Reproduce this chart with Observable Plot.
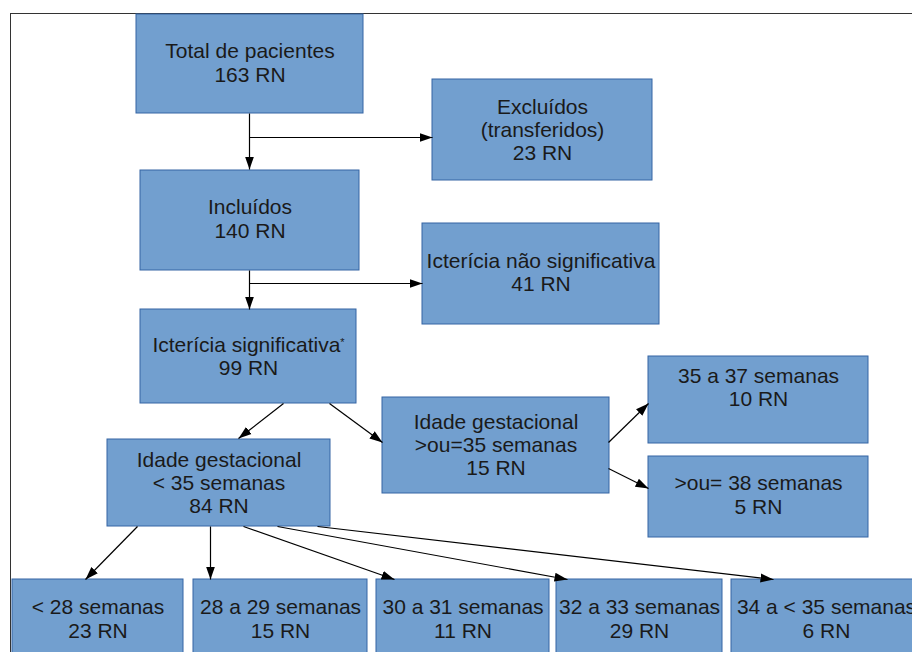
<!DOCTYPE html>
<html>
<head>
<meta charset="utf-8">
<script src="https://cdn.jsdelivr.net/npm/d3@7"></script>
<script src="https://cdn.jsdelivr.net/npm/@observablehq/plot@0.6"></script>
<style>
  html, body { margin: 0; padding: 0; background: #fff; }
  #chart svg { display: block; }
</style>
</head>
<body>
<div id="chart"></div>
<script>
// ---- Data: node labels and patient counts (RN = recém-nascidos) ----
const nodeIds = ["total", "excl", "incl", "naoSig", "sig", "ig35mais", "ig35menos", "g3537", "g38", "b28", "b2829", "b3031", "b3233", "b3435"];
const nodeLabels = [
  "Total de pacientes",
  "Excluídos\n(transferidos)",
  "Incluídos",
  "Icterícia não significativa",
  "Icterícia significativa*",
  "Idade gestacional\n>ou=35 semanas",
  "Idade gestacional\n< 35 semanas",
  "35 a 37 semanas",
  ">ou= 38 semanas",
  "< 28 semanas",
  "28 a 29 semanas",
  "30 a 31 semanas",
  "32 a 33 semanas",
  "34 a < 35 semanas"
];
const nodeCounts = [163, 23, 140, 41, 99, 15, 84, 10, 5, 23, 15, 11, 29, 6];

// ---- Edges (from -> to) ----
const edgeFrom = ["total", "total", "incl", "incl", "sig", "sig", "ig35mais", "ig35mais", "ig35menos", "ig35menos", "ig35menos", "ig35menos", "ig35menos"];
const edgeTo   = ["incl", "excl", "sig", "naoSig", "ig35menos", "ig35mais", "g3537", "g38", "b28", "b2829", "b3031", "b3233", "b3435"];

// ---- Layout of the diagram (diagram units) ----
const boxLayout = {
  total:     {x1: 136, x2: 363, y1: 14,  y2: 113, ty: 62},
  excl:      {x1: 432, x2: 652, y1: 79,  y2: 180, ty: 129},
  incl:      {x1: 140, x2: 359, y1: 170, y2: 270, ty: 218},
  naoSig:    {x1: 422, x2: 659, y1: 223, y2: 324, ty: 271.5},
  sig:       {x1: 140, x2: 356, y1: 309, y2: 403, ty: 355.5},
  ig35mais:  {x1: 382, x2: 609, y1: 397, y2: 493, ty: 444},
  ig35menos: {x1: 107, x2: 330, y1: 439, y2: 526, ty: 482},
  g3537:     {x1: 648, x2: 868, y1: 356, y2: 443, ty: 386.5},
  g38:       {x1: 648, x2: 868, y1: 456, y2: 537, ty: 494},
  b28:       {x1: 12,  x2: 183, y1: 579, y2: 662, ty: 618},
  b2829:     {x1: 193, x2: 367, y1: 579, y2: 662, ty: 618},
  b3031:     {x1: 376, x2: 549, y1: 579, y2: 662, ty: 618},
  b3233:     {x1: 556, x2: 722, y1: 579, y2: 662, ty: 618},
  b3435:     {x1: 731, x2: 921, y1: 579, y2: 662, ty: 618}
};
const edgeLayout = [
  {x1: 249, y1: 113, x2: 249, y2: 169},
  {x1: 249, y1: 137, x2: 432, y2: 137},
  {x1: 249, y1: 270, x2: 249, y2: 309},
  {x1: 249, y1: 283, x2: 422, y2: 283},
  {x1: 283, y1: 403, x2: 238, y2: 438},
  {x1: 329, y1: 403, x2: 382, y2: 442},
  {x1: 608, y1: 442, x2: 648, y2: 403},
  {x1: 608, y1: 468, x2: 648, y2: 488},
  {x1: 137, y1: 526, x2: 85,  y2: 579},
  {x1: 210, y1: 526, x2: 210, y2: 579},
  {x1: 243, y1: 526, x2: 394, y2: 579},
  {x1: 277, y1: 526, x2: 567, y2: 579},
  {x1: 317, y1: 526, x2: 773, y2: 579}
];
const frame = {left: 10, top: 13, right: 912, bottom: 652};

// ---- Build tables ----
const nodes = nodeIds.map((id, i) => {
  const b = boxLayout[id];
  return {id, label: nodeLabels[i] + "\n" + nodeCounts[i] + " RN", ...b, cx: (b.x1 + b.x2) / 2};
});
const edges = edgeFrom.map((f, i) => ({from: f, to: edgeTo[i], ...edgeLayout[i]}));

const W = 912, H = 652;
const chart = Plot.plot({
  width: W,
  height: H,
  margin: 0,
  x: {domain: [0, W], range: [0, W], axis: null},
  y: {domain: [0, H], range: [0, H], axis: null},
  style: {background: "#fff", fontFamily: "'Liberation Sans', Arial, sans-serif"},
  marks: [
    Plot.ruleY([frame], {y: "top", x1: "left", x2: "right", stroke: "#333", strokeWidth: 1}),
    Plot.ruleX([frame], {x: "left", y1: "top", y2: "bottom", stroke: "#333", strokeWidth: 1}),
    Plot.rect(nodes, {x1: "x1", x2: "x2", y1: "y1", y2: "y2", fill: "#729fcf", stroke: "#3465a4", strokeWidth: 1}),
    Plot.link(edges, {x1: "x1", y1: "y1", x2: "x2", y2: "y2", stroke: "#000", strokeWidth: 1.2, markerEnd: "arrow"}),
    Plot.text(nodes, {x: "cx", y: "ty", text: "label", fontSize: 21, lineHeight: 1.11, lineAnchor: "middle", textAnchor: "middle", fill: "#1a1a1a"})
  ]
});

// Filled triangular arrow heads
d3.select(chart).selectAll("marker")
  .attr("markerUnits", "userSpaceOnUse")
  .attr("viewBox", "-13 -5 14 10")
  .attr("markerWidth", 14)
  .attr("markerHeight", 10)
  .attr("fill", "#000")
  .attr("stroke", "none")
  .selectAll("path")
  .attr("d", "M-13,-4.5L0,0L-13,4.5Z");

// Small raised asterisk (baseline-shift so following lines are unaffected)
d3.select(chart).selectAll("tspan").each(function () {
  const t = this.textContent;
  if (t.endsWith("*")) {
    const s = d3.select(this);
    s.text(t.slice(0, -1));
    s.append("tspan").attr("font-size", 11).attr("baseline-shift", "super").text("*");
  }
});

document.getElementById("chart").appendChild(chart);
</script>
</body>
</html>
